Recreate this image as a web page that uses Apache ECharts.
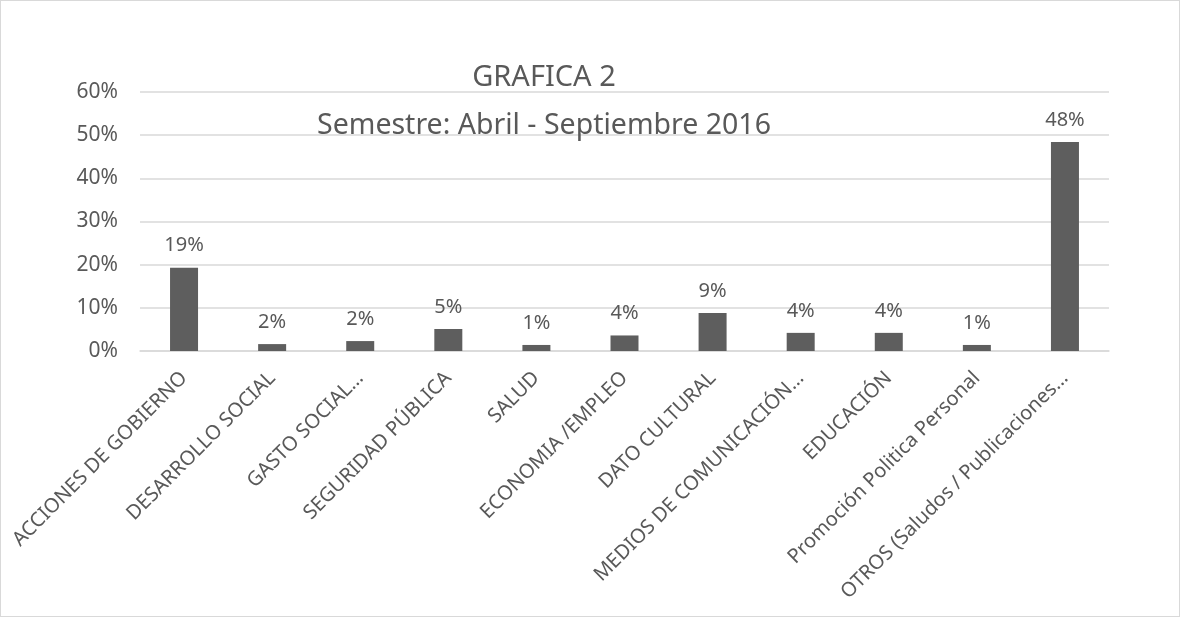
<!DOCTYPE html>
<html>
<head>
<meta charset="utf-8">
<script src="https://cdn.jsdelivr.net/npm/echarts@6/dist/echarts.min.js"></script>
<style>
  html, body { margin: 0; padding: 0; background: #fff; }
  #chart { width: 1180px; height: 617px; box-sizing: border-box; border: 1px solid #d9d9d9; }
</style>
</head>
<body>
<div id="chart"></div>
<script>
// categorias (el texto ya viene cortado como en la grafica)
var categorias = [
  "ACCIONES DE GOBIERNO",
  "DESARROLLO SOCIAL",
  "GASTO SOCIAL…",
  "SEGURIDAD PÚBLICA",
  "SALUD",
  "ECONOMIA /EMPLEO",
  "DATO CULTURAL",
  "MEDIOS DE COMUNICACIÓN…",
  "EDUCACIÓN",
  "Promoción Politica Personal",
  "OTROS (Saludos / Publicaciones…"
];
// porcentajes
var valores = [19.3, 1.6, 2.3, 5.1, 1.4, 3.6, 8.8, 4.2, 4.2, 1.4, 48.4];
var ticksY = [0, 10, 20, 30, 40, 50, 60];

var gris = "#595959";
var fuente = "'Noto Sans', 'Open Sans', sans-serif";

var option = {
  animation: false,
  title: [
    {
      text: "GRAFICA 2",
      left: 538, top: 57, textAlign: "center",
      textStyle: { color: gris, fontSize: 29, fontWeight: "normal", fontFamily: fuente }
    },
    {
      text: "Semestre: Abril - Septiembre 2016",
      left: 538, top: 105, textAlign: "center",
      textStyle: { color: gris, fontSize: 28.5, fontWeight: "normal", fontFamily: fuente }
    }
  ],
  grid: { left: 139, right: 70, top: 91, bottom: 265, containLabel: false },
  xAxis: {
    type: "category",
    data: categorias,
    axisLine: { lineStyle: { color: "#d9d9d9", width: 1.5 } },
    axisTick: { show: false },
    axisLabel: {
      rotate: 45, interval: 0, margin: 24,
      color: gris, fontSize: 20, fontFamily: fuente
    }
  },
  yAxis: {
    type: "value",
    min: ticksY[0], max: ticksY[ticksY.length - 1], interval: 10,
    axisLine: { show: false },
    axisTick: { show: false },
    splitLine: { lineStyle: { color: "#d9d9d9", width: 1.5 } },
    axisLabel: {
      margin: 22, color: gris, fontSize: 21, fontFamily: fuente,
      formatter: function (v) { return v + "%"; }
    }
  },
  series: [
    {
      type: "bar",
      data: valores,
      barWidth: 28,
      itemStyle: { color: "#5e5e5e" },
      label: {
        show: true, position: "top", distance: 12,
        color: gris, fontSize: 20, fontFamily: fuente,
        formatter: function (p) { return Math.round(p.value) + "%"; }
      }
    }
  ]
};

var mychart = echarts.init(document.getElementById("chart"));
mychart.setOption(option);
</script>
</body>
</html>
